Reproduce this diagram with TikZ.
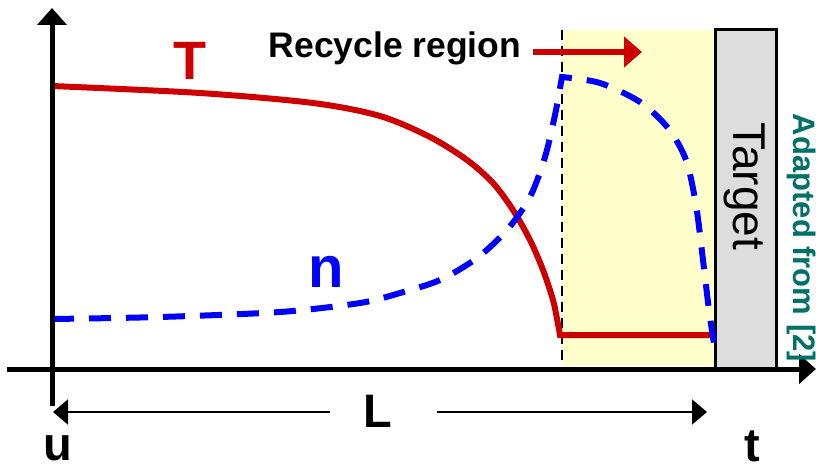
\documentclass[tikz,border=0pt]{standalone}
\usepackage{fontspec}
\setmainfont{Liberation Sans}
\usepackage{tikz}
\usetikzlibrary{arrows.meta,positioning,calc}
\definecolor{tred}{HTML}{CC0000}
\definecolor{nblue}{HTML}{0000FF}
\definecolor{recyc}{HTML}{FFFFCC}
\definecolor{tgray}{HTML}{DDDDDD}
\definecolor{cite}{HTML}{007068}

\begin{document}
\begin{tikzpicture}[x=1pt,y=-1pt,
  lbl/.style={font=\fontsize{47}{50}\selectfont\bfseries,inner sep=0pt,anchor=base},
  axis/.style={line width=5pt,-{Triangle[length=17,width=29]}},
  dimarr/.style={line width=2pt,-{Triangle[length=15,width=25]}},
  tcurve/.style={line width=6pt,color=tred},
  ncurve/.style={line width=6pt,color=nblue,dash pattern=on 22pt off 15pt}
]
\useasboundingbox (0,0) rectangle (816,465);
% recycle region and target
\fill[recyc] (562,30) rectangle (715,366);
\node[draw,line width=3pt,fill=tgray,minimum width=61,minimum height=339,inner sep=0pt] (tgt) at (745.5,199.5) {};
\node[font=\fontsize{46}{50}\selectfont,inner sep=0pt,anchor=base,rotate=-90] (tgtlab) at (733,186) {Target};
\coordinate (rtop) at (562,30);
\coordinate (rbot) at (562,364);
\draw[line width=2pt,dash pattern=on 10pt off 6pt] (rtop) -- (rbot);
% profiles
\draw[tcurve,line join=miter] plot[smooth] coordinates {(52,86) (200,93) (313,103) (380,116) (430,137) (467,160) (493,183) (513,210) (530,240) (543,270) (553,300) (558,324) (560,335)} -- (715,335);
\draw[ncurve] plot[smooth] coordinates {(52,319) (160,317) (280,312) (360,303) (400,293) (440,280) (477,258) (507,230) (530,197) (545,157) (555,115) (560,88) (562,77)}
  -- plot[smooth] coordinates {(562,77) (600,83) (640,102) (668,128) (686,160) (696,205) (703,260) (709,310) (716,357)};
% axes
\coordinate (ybot) at (52,406);
\coordinate (ytop) at (52,8);
\coordinate (xl) at (7,369);
\coordinate (xr) at (816,369);
\draw[axis] (ybot) -- (ytop);
\draw[axis] (xl) -- (xr);
% labels
\node[lbl,text=tred,font=\fontsize{54}{56}\selectfont\bfseries] (tlab) at (190,80) {T};
\node[lbl,text=nblue,font=\fontsize{58}{60}\selectfont\bfseries] (nlab) at (326,287) {n};
\node[lbl,font=\fontsize{35.5}{38}\selectfont\bfseries] (rec) at (395,58) {Recycle region};
\coordinate (rarr) at (642,52);
\draw[line width=6pt,tred,-{Triangle[length=18,width=30]}] (rec.east |- rarr) ++(12,0) -- (rarr);
\node[lbl] (len) at (378,427) {L};
\coordinate (lft) at (53,412);
\coordinate (rgt) at (707,412);
\draw[dimarr] (330,412) -- (lft);
\draw[dimarr] (437,412) -- (rgt);
\node[lbl] (u) at (58,460) {u};
\node[lbl] (t) at (752,461) {t};
\node[lbl,font=\fontsize{31}{33}\selectfont\bfseries,text=cite,rotate=-90] (adapt) at (793,238) {Adapted from [2]};
\end{tikzpicture}
\end{document}
